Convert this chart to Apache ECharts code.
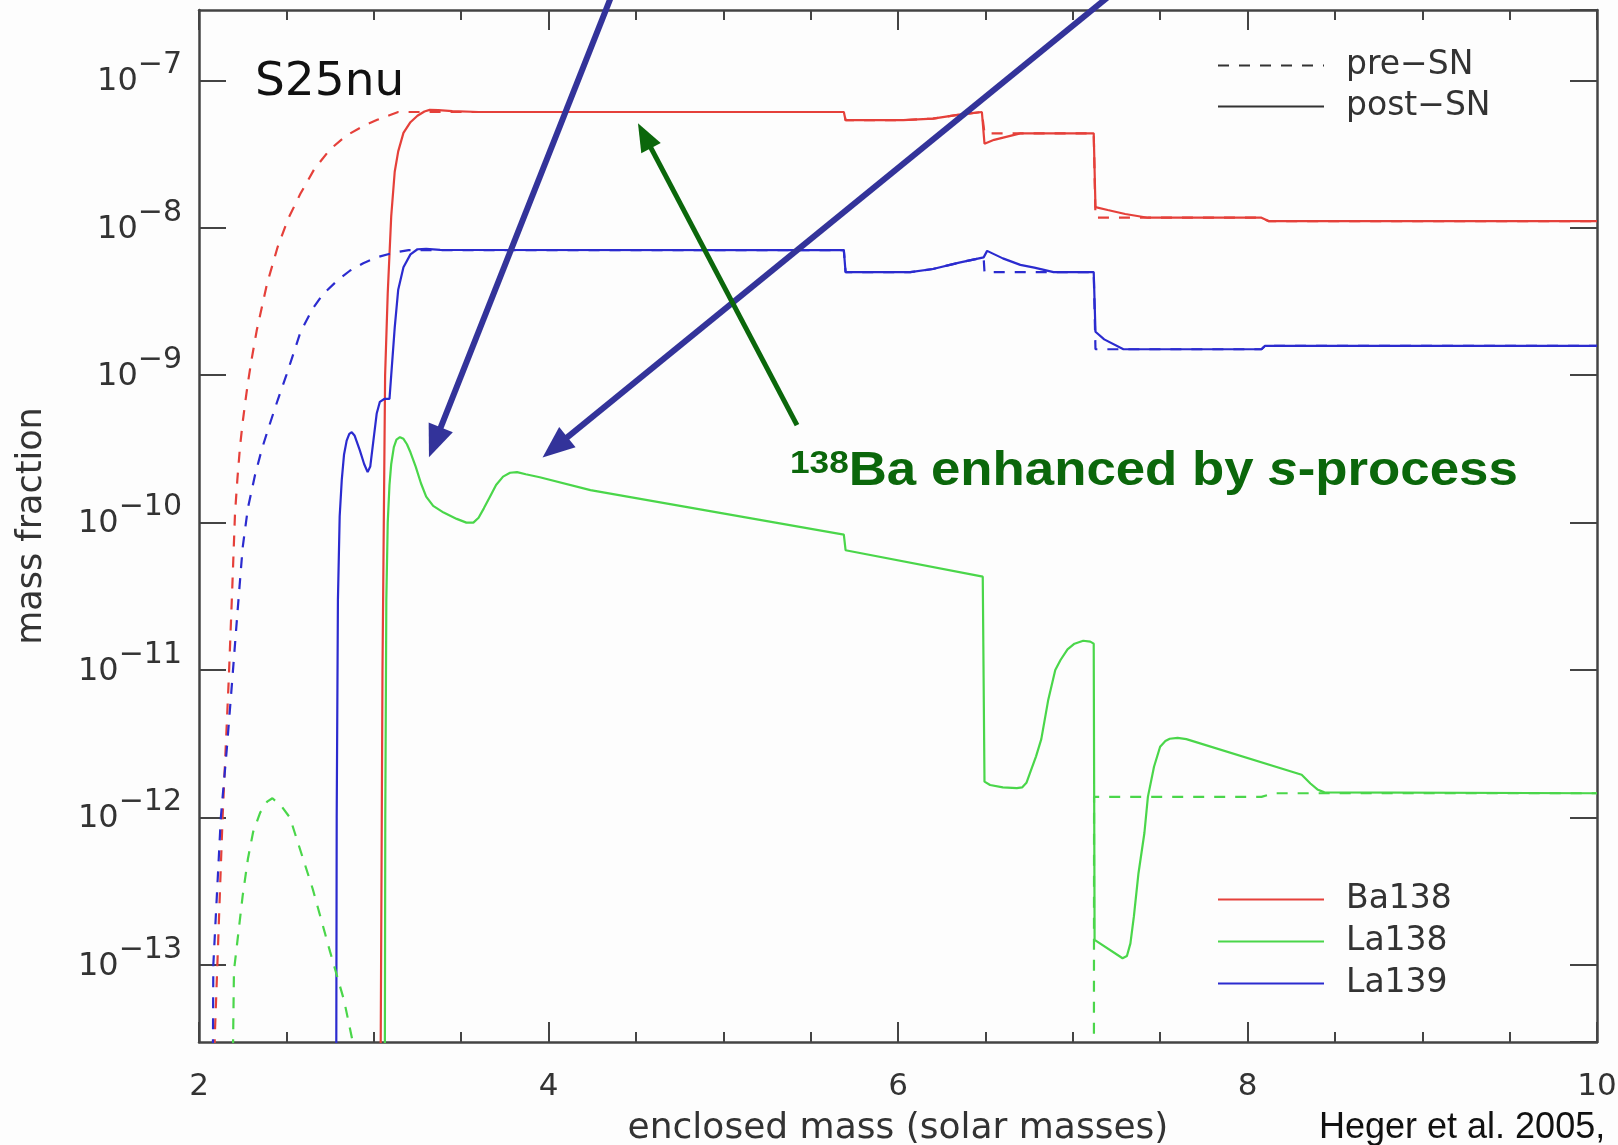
<!DOCTYPE html>
<html>
<head>
<meta charset="utf-8">
<script src="https://cdn.jsdelivr.net/npm/echarts@6/dist/echarts.min.js"></script>
<style>
  html, body { margin: 0; padding: 0; background: #fdfdfd; }
  #chart { width: 1618px; height: 1145px; }
</style>
</head>
<body>
<div id="chart"></div>
<script>
// Mass fraction profiles of the S25nu model, pairs of [enclosed mass (Msun), mass fraction].
// Values far below the axis floor (1e-16) mark where a profile drops out of the plotted range.

const ba138Post = [
  [3.03, 1e-16], [3.05, 1e-11], [3.065, 1e-9], [3.08, 3.6e-9], [3.10, 1.2e-8],
  [3.12, 2.4e-8], [3.14, 3.3e-8], [3.17, 4.4e-8], [3.21, 5.2e-8], [3.25, 5.75e-8],
  [3.29, 6.15e-8], [3.32, 6.3e-8], [3.37, 6.28e-8], [3.45, 6.18e-8], [3.60, 6.1e-8],
  [5.69, 6.1e-8], [5.70, 5.37e-8], [6.03, 5.37e-8], [6.20, 5.5e-8], [6.35, 5.85e-8],
  [6.48, 6.1e-8], [6.495, 3.72e-8], [6.55, 3.95e-8], [6.70, 4.37e-8], [7.12, 4.37e-8],
  [7.13, 1.38e-8], [7.20, 1.32e-8], [7.30, 1.24e-8], [7.43, 1.17e-8], [8.08, 1.17e-8],
  [8.12, 1.11e-8], [10.0, 1.11e-8]
];

const ba138Pre = [
  [2.08, 1e-16], [2.09, 3.2e-14], [2.105, 1e-13], [2.12, 3.2e-13], [2.135, 1e-12],
  [2.15, 2.5e-12], [2.17, 8.5e-12], [2.19, 3.5e-11], [2.206, 1.15e-10], [2.22, 2.0e-10],
  [2.235, 3.3e-10], [2.25, 4.8e-10], [2.265, 6.6e-10], [2.28, 8.9e-10], [2.30, 1.26e-9],
  [2.33, 2.0e-9], [2.39, 4.2e-9], [2.45, 7.4e-9], [2.51, 1.15e-8], [2.58, 1.7e-8],
  [2.66, 2.5e-8], [2.75, 3.4e-8], [2.84, 4.2e-8], [2.94, 4.9e-8], [3.02, 5.4e-8],
  [3.09, 5.8e-8], [3.14, 6.1e-8], [5.69, 6.1e-8], [5.70, 5.37e-8], [6.03, 5.37e-8],
  [6.20, 5.5e-8], [6.35, 5.85e-8], [6.48, 6.1e-8], [6.495, 4.37e-8], [7.12, 4.37e-8],
  [7.13, 1.17e-8], [8.08, 1.17e-8], [8.12, 1.11e-8], [10.0, 1.11e-8]
];

const la138Post = [
  [3.06, 1e-16], [3.066, 1e-12], [3.072, 3e-11], [3.08, 1.0e-10], [3.09, 1.8e-10],
  [3.10, 2.5e-10], [3.115, 3.25e-10], [3.13, 3.65e-10], [3.15, 3.8e-10], [3.17, 3.7e-10],
  [3.19, 3.4e-10], [3.21, 3.0e-10], [3.24, 2.4e-10], [3.27, 1.85e-10], [3.30, 1.5e-10],
  [3.34, 1.3e-10], [3.40, 1.17e-10], [3.475, 1.06e-10], [3.53, 1.0e-10], [3.57, 1.0e-10],
  [3.60, 1.08e-10], [3.63, 1.25e-10], [3.665, 1.5e-10], [3.70, 1.8e-10], [3.74, 2.05e-10],
  [3.78, 2.18e-10], [3.82, 2.2e-10], [3.87, 2.13e-10], [3.95, 2.03e-10], [4.24, 1.66e-10],
  [5.69, 8.3e-11], [5.70, 6.5e-11], [6.485, 4.3e-11], [6.495, 1.75e-12], [6.527, 1.66e-12],
  [6.60, 1.6e-12], [6.68, 1.58e-12], [6.71, 1.6e-12], [6.735, 1.72e-12], [6.755, 2.0e-12],
  [6.79, 2.6e-12], [6.82, 3.4e-12], [6.86, 6.3e-12], [6.90, 1.0e-11], [6.93, 1.17e-11],
  [6.97, 1.38e-11], [7.01, 1.51e-11], [7.06, 1.58e-11], [7.10, 1.56e-11], [7.12, 1.51e-11],
  [7.125, 1.48e-13], [7.285, 1.11e-13], [7.31, 1.15e-13], [7.33, 1.4e-13], [7.35, 2.14e-13],
  [7.376, 4.17e-13], [7.41, 7.85e-13], [7.43, 1.38e-12], [7.465, 2.21e-12], [7.50, 3.02e-12],
  [7.53, 3.3e-12], [7.555, 3.42e-12], [7.60, 3.47e-12], [7.65, 3.4e-12], [8.31, 1.95e-12],
  [8.36, 1.7e-12], [8.40, 1.55e-12], [8.44, 1.48e-12], [10.0, 1.46e-12]
];

const la138Pre = [
  [2.18, 1e-16], [2.195, 3e-14], [2.20, 9.1e-14], [2.25, 2.95e-13], [2.28, 5.25e-13],
  [2.31, 8e-13], [2.35, 1.08e-12], [2.39, 1.28e-12], [2.42, 1.35e-12], [2.47, 1.2e-12],
  [2.52, 1.0e-12], [2.65, 3.3e-13], [2.75, 1.23e-13], [2.83, 5.75e-14], [2.88, 3e-14],
  [2.90, 1e-16], [7.12, 1e-16], [7.122, 1.38e-12], [8.08, 1.38e-12], [8.15, 1.46e-12],
  [10.0, 1.46e-12]
];

const la139Post = [
  [2.782, 1e-16], [2.788, 1e-12], [2.795, 3e-11], [2.805, 1.1e-10], [2.817, 1.95e-10],
  [2.83, 2.9e-10], [2.845, 3.6e-10], [2.86, 4.0e-10], [2.874, 4.1e-10], [2.89, 3.9e-10],
  [2.92, 3.1e-10], [2.945, 2.5e-10], [2.965, 2.2e-10], [2.98, 2.4e-10], [2.998, 3.6e-10],
  [3.017, 5.5e-10], [3.035, 6.6e-10], [3.06, 6.9e-10], [3.09, 6.9e-10], [3.10, 1.0e-9],
  [3.12, 2.1e-9], [3.14, 3.8e-9], [3.17, 5.4e-9], [3.21, 6.6e-9], [3.25, 7.15e-9],
  [3.30, 7.2e-9], [3.38, 7.08e-9], [5.69, 7.05e-9], [5.70, 5.0e-9], [6.07, 5.0e-9],
  [6.20, 5.25e-9], [6.35, 5.8e-9], [6.49, 6.3e-9], [6.51, 6.97e-9], [6.60, 6.2e-9],
  [6.70, 5.6e-9], [6.78, 5.37e-9], [6.89, 5.0e-9], [7.12, 5.0e-9], [7.13, 1.97e-9],
  [7.18, 1.75e-9], [7.29, 1.5e-9], [8.08, 1.5e-9], [8.10, 1.58e-9], [10.0, 1.58e-9]
];

const la139Pre = [
  [2.07, 1e-16], [2.082, 1e-13], [2.125, 1e-12], [2.16, 3.0e-12], [2.19, 8.5e-12],
  [2.22, 2.45e-11], [2.25, 6.8e-11], [2.28, 1.26e-10], [2.32, 2.09e-10], [2.36, 3.16e-10],
  [2.40, 4.47e-10], [2.45, 6.76e-10], [2.50, 1.0e-9], [2.58, 1.95e-9], [2.65, 2.82e-9],
  [2.71, 3.55e-9], [2.79, 4.37e-9], [2.865, 5.13e-9], [2.94, 5.75e-9], [3.02, 6.31e-9],
  [3.11, 6.76e-9], [3.20, 7.05e-9], [5.69, 7.05e-9], [5.70, 5.0e-9], [6.07, 5.0e-9],
  [6.20, 5.25e-9], [6.35, 5.8e-9], [6.49, 6.3e-9], [6.495, 5.0e-9], [7.12, 5.0e-9],
  [7.13, 1.5e-9], [8.08, 1.5e-9], [8.10, 1.58e-9], [10.0, 1.58e-9]
];

const isotopeNames = ['Ba138', 'La138', 'La139'];
const stageNames = ['pre−SN', 'post−SN'];

// Annotation arrows in data coordinates: [tail, head]
const arrowsToLa138 = [
  [[4.37, 4e-7], [3.316, 2.78e-10]],
  [[7.24, 4e-7], [3.966, 2.77e-10]]
];
const arrowToBa138 = [[5.422, 4.58e-10], [4.512, 5.11e-8]];

const FONT = '"DejaVu Sans", sans-serif';
const AXIS_COLOR = '#444';
const TEXT_COLOR = '#333';
const COLORS = { Ba138: '#e5403a', La138: '#4ad64a', La139: '#2b2bcf' };
const DASH = [11, 10];

const chart = echarts.init(document.getElementById('chart'), null, { renderer: 'canvas' });

function profile(name, data, dashed) {
  return {
    name: name,
    type: 'line',
    data: data,
    xAxisIndex: 0,
    yAxisIndex: 0,
    showSymbol: false,
    symbol: 'none',
    clip: true,
    smooth: false,
    animation: false,
    emphasis: { disabled: true },
    z: dashed ? 4 : 3,
    color: COLORS[name],
    lineStyle: { color: COLORS[name], width: 2.2, type: dashed ? DASH : 'solid' }
  };
}

function styleKey(name, dashed) {
  return {
    name: name,
    type: 'line',
    data: [],
    symbol: 'none',
    animation: false,
    color: TEXT_COLOR,
    lineStyle: { color: TEXT_COLOR, width: 2.5, type: dashed ? DASH : 'solid' }
  };
}

const xAxisBase = {
  type: 'value',
  min: 2,
  max: 10,
  interval: 2,
  axisLine: { show: true, onZero: false, lineStyle: { color: AXIS_COLOR, width: 2.5 } },
  axisTick: { show: true, inside: true, length: 20, lineStyle: { color: AXIS_COLOR, width: 2 } },
  minorTick: { show: true, splitNumber: 4, length: 10, lineStyle: { color: AXIS_COLOR, width: 2 } },
  splitLine: { show: false },
  minorSplitLine: { show: false }
};

const yAxisBase = {
  type: 'log',
  logBase: 10,
  min: 3e-14,
  max: 3e-7,
  axisLine: { show: true, onZero: false, lineStyle: { color: AXIS_COLOR, width: 2.5 } },
  axisTick: { show: true, inside: true, length: 27, lineStyle: { color: AXIS_COLOR, width: 2 } },
  splitLine: { show: false }
};

function decadeLabel(value) {
  const e = Math.log10(value);
  const r = Math.round(e);
  if (Math.abs(e - r) > 1e-6) return '';
  return '{b|10}{e|' + (r < 0 ? '−' + (-r) : String(r)) + '}';
}

const option = {
  backgroundColor: '#fdfdfd',
  animation: false,
  textStyle: { fontFamily: FONT },
  grid: { left: 199, right: 21, top: 10, bottom: 103, containLabel: false, outerBoundsMode: 'none' },
  title: [
    {
      text: 'S25nu',
      left: 250,
      top: 54,
      textStyle: { fontFamily: FONT, fontSize: 47, fontWeight: 'normal', color: '#111' }
    },
    {
      text: 'Heger et al. 2005,',
      left: 1314,
      top: 1105,
      textStyle: { fontFamily: '"Liberation Sans", Arial, sans-serif', fontSize: 36, fontWeight: 'normal', color: '#111' }
    }
  ],
  legend: [
    {
      data: stageNames,
      orient: 'vertical',
      left: 1212,
      top: 44,
      itemWidth: 106,
      itemHeight: 14,
      itemGap: 8,
      itemStyle: { opacity: 0 },
      textStyle: { fontFamily: FONT, fontSize: 33, lineHeight: 33, color: TEXT_COLOR, padding: [0, 0, 0, 17] }
    },
    {
      data: isotopeNames,
      orient: 'vertical',
      left: 1212,
      top: 878,
      itemWidth: 106,
      itemHeight: 14,
      itemGap: 9,
      itemStyle: { opacity: 0 },
      textStyle: { fontFamily: FONT, fontSize: 33, lineHeight: 33, color: TEXT_COLOR, padding: [0, 0, 0, 17] }
    }
  ],
  xAxis: [
    Object.assign({}, xAxisBase, {
      position: 'bottom',
      name: 'enclosed mass (solar masses)',
      nameLocation: 'middle',
      nameGap: 69,
      nameTextStyle: { fontFamily: FONT, fontSize: 36, color: TEXT_COLOR },
      axisLabel: { show: true, margin: 29, fontFamily: FONT, fontSize: 31, color: TEXT_COLOR }
    }),
    Object.assign({}, xAxisBase, {
      position: 'top',
      axisLabel: { show: false }
    })
  ],
  yAxis: [
    Object.assign({}, yAxisBase, {
      position: 'left',
      name: 'mass fraction',
      nameLocation: 'middle',
      nameGap: 150,
      nameRotate: 90,
      nameTextStyle: { fontFamily: FONT, fontSize: 35, color: TEXT_COLOR },
      axisLabel: {
        show: true,
        margin: 17,
        showMinLabel: false,
        showMaxLabel: false,
        formatter: decadeLabel,
        rich: {
          b: { fontFamily: FONT, fontSize: 32, color: TEXT_COLOR, lineHeight: 32, padding: [3, 0, 0, 0] },
          e: { fontFamily: FONT, fontSize: 30, color: TEXT_COLOR, lineHeight: 30, padding: [0, 0, 30, 0] }
        }
      }
    }),
    Object.assign({}, yAxisBase, {
      position: 'right',
      axisLabel: { show: false }
    })
  ],
  series: [
    profile('Ba138', ba138Post, false),
    profile('La138', la138Post, false),
    profile('La139', la139Post, false),
    profile('Ba138', ba138Pre, true),
    profile('La138', la138Pre, true),
    profile('La139', la139Pre, true),
    styleKey(stageNames[0], true),
    styleKey(stageNames[1], false)
  ]
};

chart.setOption(option);

// Arrows are placed through the chart's own coordinate conversion.
function toPx(p) {
  return chart.convertToPixel({ xAxisIndex: 0, yAxisIndex: 0 }, p);
}

function arrow(pair, color, width, headLen, headHalf) {
  const a = toPx(pair[0]);
  const b = toPx(pair[1]);
  const dx = b[0] - a[0], dy = b[1] - a[1];
  const len = Math.hypot(dx, dy);
  const ux = dx / len, uy = dy / len;
  const bx = b[0] - ux * headLen, by = b[1] - uy * headLen;
  return [
    {
      type: 'line', silent: true, z: 100,
      shape: { x1: a[0], y1: a[1], x2: bx + ux * 3, y2: by + uy * 3 },
      style: { stroke: color, lineWidth: width, lineCap: 'butt' }
    },
    {
      type: 'polygon', silent: true, z: 100,
      shape: { points: [b, [bx - uy * headHalf, by + ux * headHalf], [bx + uy * headHalf, by - ux * headHalf]] },
      style: { fill: color }
    }
  ];
}

const ARROW_BLUE = '#33339a';
const ANNOT_GREEN = '#0b670b';
const annotFont = '"Liberation Sans", Arial, sans-serif';

const graphics = []
  .concat(arrow(arrowsToLa138[0], ARROW_BLUE, 6, 32, 13))
  .concat(arrow(arrowsToLa138[1], ARROW_BLUE, 6, 32, 13))
  .concat(arrow(arrowToBa138, ANNOT_GREEN, 5, 28, 11));

graphics.push({
  type: 'text',
  silent: true,
  z: 100,
  x: 790,
  y: 448,
  scaleX: 1.1,
  style: {
    text: '{sup|138}{m|Ba enhanced by }{it|s}{m|-process}',
    fill: ANNOT_GREEN,
    rich: {
      sup: { fontFamily: annotFont, fontSize: 32, fontWeight: 'bold', fill: ANNOT_GREEN, lineHeight: 32, verticalAlign: 'top' },
      m: { fontFamily: annotFont, fontSize: 48, fontWeight: 'bold', fill: ANNOT_GREEN, lineHeight: 48 },
      it: { fontFamily: annotFont, fontSize: 48, fontWeight: 'bold', fontStyle: 'italic', fill: ANNOT_GREEN, lineHeight: 48 }
    }
  }
});

chart.setOption({ graphic: graphics });
</script>
</body>
</html>
